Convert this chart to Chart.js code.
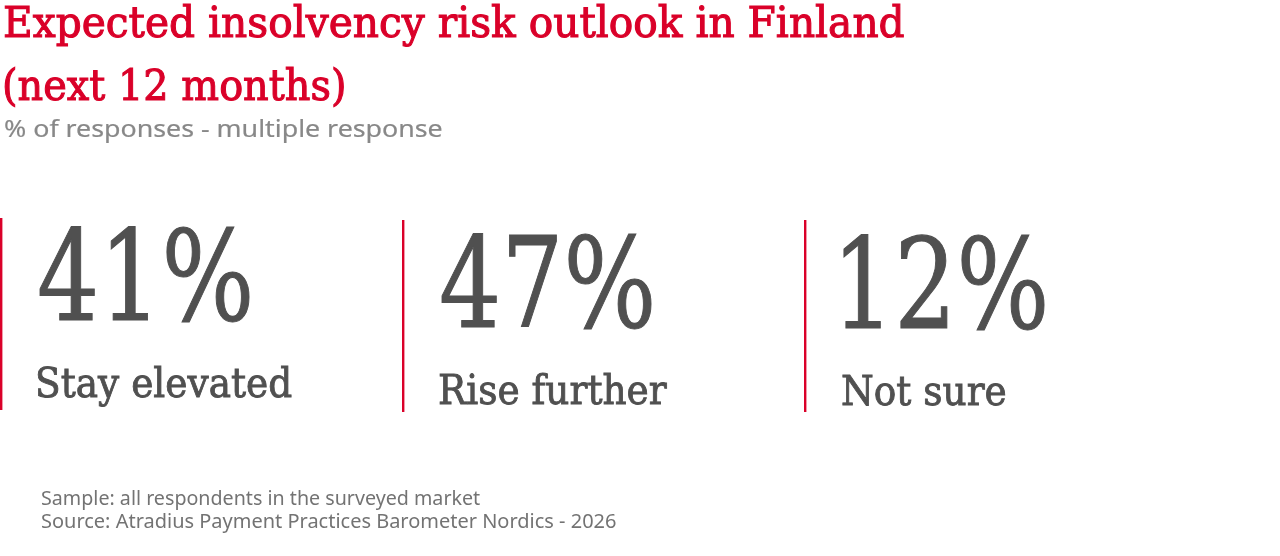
<!DOCTYPE html>
<html><head><meta charset="utf-8">
<script src="https://cdn.jsdelivr.net/npm/chart.js@4.4.1/dist/chart.umd.min.js"></script>
<style>
html,body{margin:0;padding:0;background:#fff;overflow:hidden;}
#stage{position:relative;width:1280px;height:556px;overflow:hidden;}
#wrap{position:absolute;left:0;top:0;width:1280px;height:556px;}
.t{position:absolute;white-space:nowrap;line-height:1;transform-origin:0 0;margin:0;padding:0;}
</style></head><body>
<div id="stage"><div id="wrap"><canvas id="c"></canvas></div></div>
<script>
// ---- data ----
const categories = ['Stay elevated', 'Rise further', 'Not sure'];
const shares = [41, 47, 12];
const titleLines = ['Expected insolvency risk outlook in Finland', '(next 12 months)'];
const subtitleText = '% of responses - multiple response';
const footnotes = ['Sample: all respondents in the surveyed market',
                   'Source: Atradius Payment Practices Barometer Nordics - 2026'];

// ---- style ----
const RED = '#da0029';
const DARK = '#505050';
const SERIF = '"DejaVu Serif", serif';
const SANS = '"Noto Sans", "Open Sans", sans-serif';
const lineDy = [-1, 1, 1];
const textDy = [0, 7, 8];

const stage = document.getElementById('stage');
const mctx = document.createElement('canvas').getContext('2d');
function fontStr(o){ return `${o.weight||'normal'} ${o.size}px ${o.family}`; }
function measure(txt, o){
  mctx.font = fontStr(o);
  const m = mctx.measureText(txt);
  return {abl: m.actualBoundingBoxLeft, ink: m.actualBoundingBoxLeft + m.actualBoundingBoxRight};
}
function place(txt, o){
  const mm = measure(txt, o);
  const s = o.inkWidth ? o.inkWidth / mm.ink : (o.scale || 1);
  const d = document.createElement('div');
  d.className = 't';
  d.style.font = fontStr(o);
  d.style.lineHeight = '1';
  d.style.color = o.color;
  if (o.stroke) { d.style.webkitTextStroke = o.stroke + 'px ' + o.color; }
  const sp = document.createElement('span'); sp.textContent = txt;
  const mk = document.createElement('span');
  mk.style.cssText = 'display:inline-block;width:0;height:0;vertical-align:baseline;';
  d.appendChild(sp); d.appendChild(mk);
  stage.appendChild(d);
  const base = mk.offsetTop;
  d.style.left = (o.inkLeft + s * mm.abl) + 'px';
  d.style.top = (o.baseline - base) + 'px';
  d.style.transform = `scaleX(${s})`;
}

// ---- header / footer text ----
const titleFont = {family: SERIF, size: 43.5, weight: 'normal', color: RED, stroke: 1.1};
place(titleLines[0], {...titleFont, inkLeft: 5, baseline: 37, inkWidth: 899});
place(titleLines[1], {...titleFont, inkLeft: 5, baseline: 100, inkWidth: 339});
place(subtitleText, {family: SANS, size: 24, color: '#888888', stroke: 0.2, inkLeft: 5, baseline: 137, inkWidth: 437});
place(footnotes[0], {family: SANS, size: 20, color: '#737373', inkLeft: 42, baseline: 505, inkWidth: 438});
place(footnotes[1], {family: SANS, size: 20, color: '#737373', inkLeft: 42, baseline: 528, inkWidth: 574});

// ---- chart ----
const dividerPlugin = {
  id: 'dividers',
  afterDatasetsDraw(chart){
    const x = chart.scales.x, a = chart.chartArea, ctx = chart.ctx;
    const half = (a.right - a.left) / chart.data.labels.length / 2;
    ctx.save();
    ctx.fillStyle = RED;
    chart.data.labels.forEach((l, i) => {
      const bx = x.getPixelForValue(i) - half;
      ctx.fillRect(bx, a.top + lineDy[i], 2.4, a.bottom - a.top);
    });
    ctx.restore();
  }
};

const chart = new Chart(document.getElementById('c'), {
  type: 'bar',
  data: {labels: categories, datasets: [{data: shares, backgroundColor: 'rgba(0,0,0,0)', borderWidth: 0}]},
  options: {
    responsive: true, maintainAspectRatio: false, animation: false,
    layout: {padding: {left: 0, right: 74, top: 219, bottom: 145}},
    plugins: {legend: {display: false}, tooltip: {enabled: false}, title: {display: false}},
    scales: {x: {display: false}, y: {display: false, min: 0, max: 100}}
  },
  plugins: [dividerPlugin]
});

// ---- KPI texts positioned on the category scale ----
(function(){
  const x = chart.scales.x, a = chart.chartArea;
  const half = (a.right - a.left) / categories.length / 2;
  const numFont = {family: SERIF, size: 125.5, color: DARK, stroke: 1.1};
  const labFont = {family: SERIF, size: 40.5, color: DARK, stroke: 0.9};
  const numTexts = shares.map(v => v + '%');
  const numTarget = 205 + 216 + 200, labTarget = 254 + 231 + 159;
  const numInk = numTexts.reduce((s, t) => s + measure(t, numFont).ink, 0);
  const labInk = categories.reduce((s, t) => s + measure(t, labFont).ink, 0);
  const ns = numTarget / numInk, ls = labTarget / labInk;
  categories.forEach((c, i) => {
    const bx = x.getPixelForValue(i) - half;
    place(numTexts[i], {...numFont, scale: ns, inkLeft: bx + 39.5, baseline: a.top + 100.5 + textDy[i]});
    place(c, {...labFont, scale: ls, inkLeft: bx + 37.5, baseline: a.top + 177.5 + textDy[i]});
  });
})();
</script>
</body></html>
